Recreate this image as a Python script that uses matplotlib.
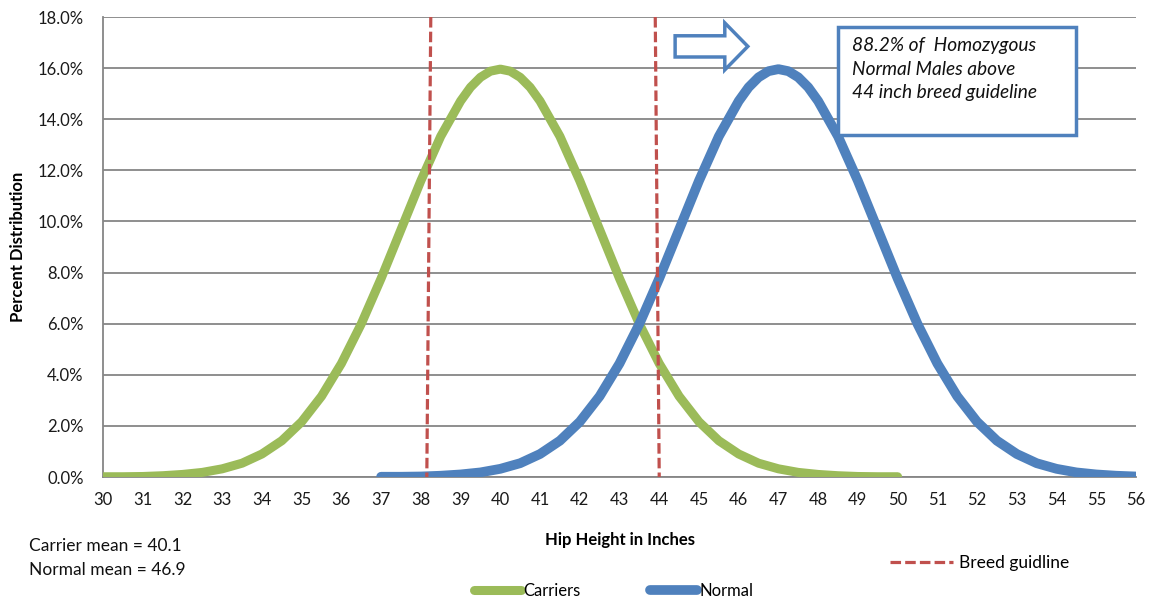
import matplotlib
matplotlib.use('Agg')
import matplotlib.pyplot as plt
import matplotlib.ticker as ticker
from matplotlib.patches import FancyArrow, Rectangle

plt.rcParams['font.family'] = ['Lato', 'DejaVu Sans']

# 数据（从图上读取，单位 %）
carrier_x = [30, 30.5, 31, 31.5, 32, 32.5, 33, 33.5, 34, 34.5, 35, 35.5, 36, 36.5, 37, 37.5,
             38, 38.5, 39, 39.25, 39.5, 39.75, 40, 40.25, 40.5, 40.75, 41, 41.5, 42, 42.5, 43, 43.5,
             44, 44.5, 45, 45.5, 46, 46.5, 47, 47.5, 48, 48.5, 49, 49.5, 50]
carrier_y = [0.01, 0.01, 0.02, 0.05, 0.10, 0.18, 0.32, 0.54, 0.90, 1.42, 2.16, 3.16, 4.44, 5.99, 7.77, 9.68,
             11.59, 13.33, 14.71, 15.25, 15.64, 15.88, 15.96, 15.88, 15.64, 15.25, 14.71, 13.33, 11.59, 9.68,
             7.77, 5.99, 4.44, 3.16, 2.16, 1.42, 0.90, 0.54, 0.32, 0.18, 0.10, 0.05, 0.02, 0.01, 0.01]
normal_x = [37, 37.5, 38, 38.5, 39, 39.5, 40, 40.5, 41, 41.5, 42, 42.5, 43, 43.5, 44, 44.5,
            45, 45.5, 46, 46.25, 46.5, 46.75, 47, 47.25, 47.5, 47.75, 48, 48.5, 49, 49.5, 50, 50.5,
            51, 51.5, 52, 52.5, 53, 53.5, 54, 54.5, 55, 55.5, 56]
normal_y = [0.01, 0.01, 0.02, 0.05, 0.10, 0.18, 0.32, 0.54, 0.90, 1.42, 2.16, 3.16, 4.44, 5.99, 7.77, 9.68,
            11.59, 13.33, 14.71, 15.25, 15.64, 15.88, 15.96, 15.88, 15.64, 15.25, 14.71, 13.33, 11.59, 9.68,
            7.77, 5.99, 4.44, 3.16, 2.16, 1.42, 0.90, 0.54, 0.32, 0.18, 0.10, 0.05, 0.02]
guide_x_top = [38.25, 43.9]
guide_x_bottom = [38.15, 44.0]
x_ticks = list(range(30, 57))
y_ticks = [0, 2, 4, 6, 8, 10, 12, 14, 16, 18]

green = '#9BBB59'
blue = '#4F81BD'
red = '#C0504D'
grid_gray = '#868686'

fig = plt.figure(figsize=(11.5, 6.05), dpi=100)
ax = fig.add_axes([103 / 1150, 1 - 477 / 605, (1136 - 103) / 1150, (477 - 17) / 605])

ax.plot(carrier_x, carrier_y, color=green, lw=6.5, solid_capstyle='round', solid_joinstyle='round',
        label='Carriers', zorder=3)
ax.plot(normal_x, normal_y, color=blue, lw=7, solid_capstyle='round', solid_joinstyle='round',
        label='Normal', zorder=3)
for i in range(len(guide_x_top)):
    ax.plot([guide_x_top[i], guide_x_bottom[i]], [18, 0], color=red, lw=2.3,
            dashes=(3.3, 1.3), label='Breed guidline' if i == 0 else None, zorder=4, clip_on=False)

ax.set_xlim(30, 56)
ax.set_ylim(0, 18)
ax.set_xticks(x_ticks)
ax.set_yticks(y_ticks)
ax.yaxis.set_major_formatter(ticker.FuncFormatter(lambda v, p: '{:.1f}%'.format(v)))
ax.tick_params(length=0, labelsize=12, colors='#1a1a1a')
ax.tick_params(axis='y', pad=14)
ax.tick_params(axis='x', pad=11)
ax.grid(True, axis='y', color=grid_gray, lw=1.3)
ax.set_axisbelow(True)
for s in ['top', 'right']:
    ax.spines[s].set_visible(False)
for s in ['left', 'bottom']:
    ax.spines[s].set_color(grid_gray)
    ax.spines[s].set_linewidth(1.3)

ax.set_xlabel('Hip Height in Inches', fontsize=12, fontweight='bold', labelpad=17)
ax.set_ylabel('Percent Distribution', fontsize=12, fontweight='bold', labelpad=8)

# 箭头和文本框
ax.add_patch(FancyArrow(44.4, 16.85, 1.83, 0, width=0.83, head_width=1.84, head_length=0.58,
                        length_includes_head=True, facecolor='white', edgecolor=blue, lw=2.5,
                        zorder=5))
ax.add_patch(Rectangle((48.5, 13.38), 6.0, 4.23, facecolor='white', edgecolor=blue, lw=2.5, zorder=5))
ax.text(48.85, 17.2, '88.2% of  Homozygous\nNormal Males above\n44 inch breed guideline',
        fontsize=13.8, style='italic', va='top', ha='left', linespacing=1.45, color='#111111', zorder=6)

fig.text(29 / 1150, 1 - 546 / 605, 'Carrier mean = 40.1', fontsize=12.5, va='center', color='#111111')
fig.text(29 / 1150, 1 - 570 / 605, 'Normal mean = 46.9', fontsize=12.5, va='center', color='#111111')

h, l = ax.get_legend_handles_labels()
fig.legend(h[:2], l[:2], loc='center left', bbox_to_anchor=(474 / 1150, 1 - 591 / 605), ncol=2,
           frameon=False, fontsize=12, handlelength=2.8, handletextpad=0.15, columnspacing=4.2,
           borderpad=0, borderaxespad=0)
fig.legend(h[2:], l[2:], loc='center left', bbox_to_anchor=(890 / 1150, 1 - 563 / 605),
           frameon=False, fontsize=12.5, handlelength=3.6, handletextpad=0.4, borderpad=0, borderaxespad=0)

fig.savefig('out.png', dpi=100)
